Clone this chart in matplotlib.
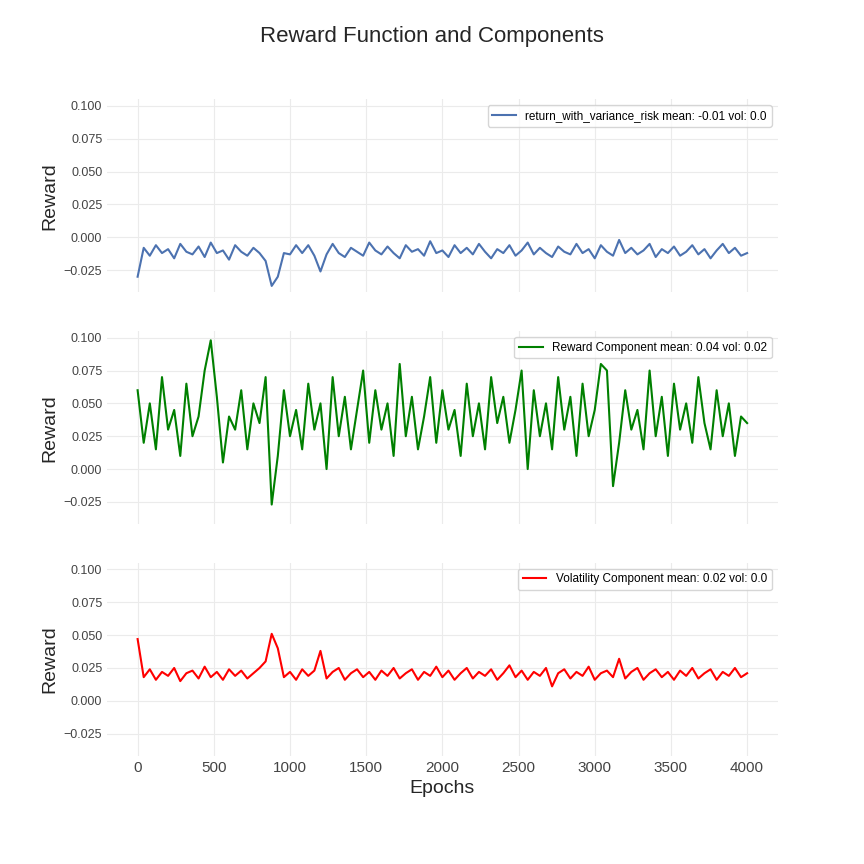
import matplotlib
matplotlib.use("Agg")
import matplotlib.pyplot as plt
import numpy as np

plt.rcParams['font.family'] = ['Liberation Sans', 'DejaVu Sans']

epochs = list(range(0, 4001, 40))
reward = [-0.030,-0.008,-0.014,-0.006,-0.012,-0.009,-0.016,-0.005,-0.011,-0.013,
-0.007,-0.015,-0.004,-0.012,-0.010,-0.017,-0.006,-0.011,-0.014,-0.008,
-0.012,-0.018,-0.037,-0.030,-0.012,-0.013,-0.006,-0.012,-0.006,-0.014,
-0.026,-0.013,-0.005,-0.012,-0.015,-0.008,-0.011,-0.014,-0.004,-0.010,
-0.013,-0.007,-0.012,-0.016,-0.006,-0.011,-0.009,-0.014,-0.003,-0.012,
-0.010,-0.015,-0.006,-0.012,-0.008,-0.013,-0.005,-0.011,-0.016,-0.009,
-0.012,-0.006,-0.014,-0.010,-0.004,-0.013,-0.008,-0.012,-0.015,-0.007,
-0.011,-0.013,-0.005,-0.012,-0.009,-0.016,-0.006,-0.011,-0.014,-0.002,
-0.012,-0.008,-0.013,-0.010,-0.005,-0.015,-0.009,-0.012,-0.007,-0.014,
-0.011,-0.006,-0.013,-0.009,-0.016,-0.010,-0.005,-0.012,-0.008,-0.014,-0.012]
comp = [0.060,0.020,0.050,0.015,0.070,0.030,0.045,0.010,0.065,0.025,
0.040,0.075,0.098,0.055,0.005,0.040,0.030,0.060,0.015,0.050,
0.035,0.070,-0.027,0.010,0.060,0.025,0.045,0.015,0.065,0.030,
0.050,0.000,0.070,0.025,0.055,0.015,0.045,0.075,0.020,0.060,
0.030,0.050,0.010,0.080,0.025,0.055,0.015,0.040,0.070,0.020,
0.060,0.030,0.045,0.010,0.065,0.025,0.050,0.015,0.070,0.035,
0.055,0.020,0.045,0.075,0.000,0.060,0.025,0.050,0.015,0.070,
0.030,0.055,0.010,0.065,0.025,0.045,0.080,0.075,-0.013,0.020,
0.060,0.030,0.045,0.015,0.075,0.025,0.055,0.010,0.065,0.030,
0.050,0.020,0.070,0.035,0.015,0.060,0.025,0.050,0.010,0.040,0.035]
vol = [0.047,0.018,0.024,0.016,0.022,0.019,0.025,0.015,0.021,0.023,
0.017,0.026,0.018,0.022,0.016,0.024,0.019,0.023,0.017,0.021,
0.025,0.030,0.051,0.040,0.018,0.022,0.016,0.024,0.019,0.023,
0.038,0.017,0.022,0.025,0.016,0.021,0.024,0.018,0.022,0.016,
0.023,0.019,0.025,0.017,0.021,0.024,0.016,0.022,0.019,0.026,
0.018,0.023,0.016,0.021,0.025,0.017,0.022,0.019,0.024,0.016,
0.021,0.027,0.018,0.023,0.016,0.022,0.019,0.025,0.011,0.021,
0.024,0.017,0.022,0.019,0.026,0.016,0.021,0.023,0.018,0.032,
0.017,0.022,0.025,0.016,0.021,0.024,0.018,0.022,0.016,0.023,
0.019,0.025,0.017,0.021,0.024,0.016,0.022,0.019,0.025,0.018,0.021]

series = [(reward, "#4c72b0", "return_with_variance_risk mean: -0.01 vol: 0.0"),
          (comp, "green", "Reward Component mean: 0.04 vol: 0.02"),
          (vol, "red", "Volatility Component mean: 0.02 vol: 0.0")]

fig, axes = plt.subplots(3, 1, figsize=(8.64, 8.64), dpi=100, sharex=True, sharey=True)
fig.subplots_adjust(left=0.124, right=0.9, top=0.885, bottom=0.125, hspace=0.2)
fig.suptitle("Reward Function and Components", fontsize=16, color="#262626", y=0.97)
for ax, (vals, c, lab) in zip(axes, series):
    ax.set_facecolor("white")
    ax.plot(epochs, vals, color=c, lw=1.5, label=lab)
    ax.grid(True, color="#ebebeb", lw=0.8)
    for s in ax.spines.values():
        s.set_visible(False)
    ax.set_ylabel("Reward", fontsize=14, color="#262626")
    ax.legend(loc="upper right", fontsize=8.5, frameon=True, edgecolor="#cccccc")
    ax.tick_params(length=0, labelsize=9, colors="#444444")
ax.set_ylim(-0.042, 0.105)
ax.set_yticks([-0.025, 0, 0.025, 0.05, 0.075, 0.1])
ax.set_yticklabels(["−0.025", "0.000", "0.025", "0.050", "0.075", "0.100"])
ax.set_xlim(-200, 4200)
ax.set_xticks(range(0, 4001, 500))
axes[2].tick_params(axis="x", labelsize=11)
axes[2].set_xlabel("Epochs", fontsize=14, color="#262626")
fig.savefig("out.png")
